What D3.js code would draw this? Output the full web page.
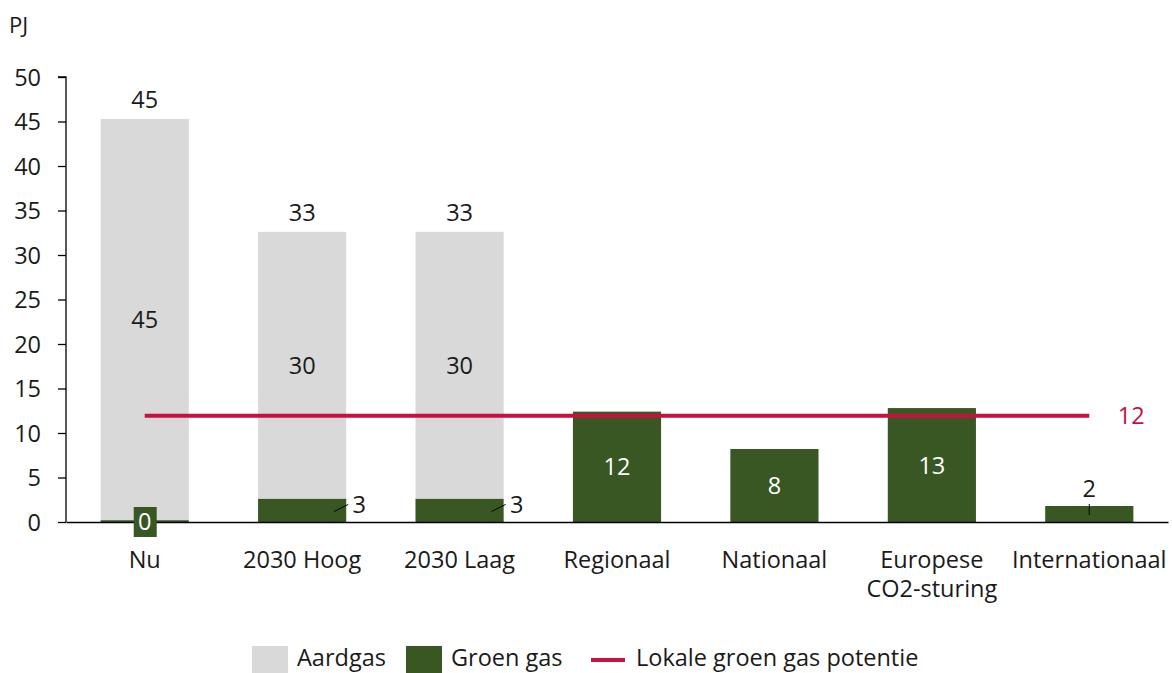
<!doctype html>
<html lang="nl">
<head>
  <meta charset="UTF-8">
  <title>Groen gas en aardgas</title>
  <style>
    body { margin: 0; background: #fff; }
    text { font-family: "Open Sans", Lato, sans-serif; fill: #1a1a1a; }
  </style>
  <script src="https://cdn.jsdelivr.net/npm/d3@7"></script>
</head>
<body>
  <div id="container"></div>
  <script>
    var categories = ["Nu", "2030 Hoog", "2030 Laag", "Regionaal", "Nationaal", "Europese\nCO2-sturing", "Internationaal"];
    var groenGas = [0.2, 2.6, 2.6, 12.4, 8.2, 12.8, 1.8];
    var aardgas = [45.1, 30.0, 30.0, 0, 0, 0, 0];
    var groenLabels = ["0", "3", "3", "12", "8", "13", "2"];
    var aardLabels = ["45", "30", "30", "", "", "", ""];
    var totalLabels = ["45", "33", "33", "", "", "", ""];
    var potentie = 11.95;
    var potentieLabel = "12";
    var yTicks = [0, 5, 10, 15, 20, 25, 30, 35, 40, 45, 50];

    var width = 1172, height = 673;
    var margin = { left: 66, top: 77, right: 4, bottom: 151 };
    var gW = width - margin.left - margin.right,
      gH = height - margin.top - margin.bottom;
    var fs = '23.5px';

    var svg = d3.select('#container').append('svg')
      .attr('width', width).attr('height', height);
    var g = svg.append('g').attr('transform', 'translate(' + margin.left + ',' + margin.top + ')');

    var x = d3.scaleBand().domain(categories).range([0, gW]).paddingInner(0.44).paddingOuter(0.22);
    var y = d3.scaleLinear().domain([0, 50]).range([gH, 0]);

    var cGrey = '#d9d9d9', cGreen = '#385723', cRed = '#c8103e';

    // y axis
    var yAxis = g.append('g').call(d3.axisLeft(y).tickValues(yTicks).tickSize(8).tickPadding(17));
    yAxis.selectAll('path, line').attr('stroke', '#000').attr('stroke-width', 1.3);
    yAxis.select('.domain').attr('d', 'M-8,0H0V' + gH);
    yAxis.selectAll('text').style('font-size', fs).attr('fill', '#1a1a1a')
      .style('font-family', '"Open Sans", sans-serif').attr('dy', '0.36em');

    svg.append('text').attr('x', 9).attr('y', 33).text('PJ').style('font-size', '22px');

    // bars
    var rows = categories.map(function (c, i) {
      return { c: c, g: groenGas[i], a: aardgas[i], i: i };
    });
    g.selectAll('.aard').data(rows).enter().append('rect')
      .attr('x', function (d) { return x(d.c); })
      .attr('width', x.bandwidth())
      .attr('y', function (d) { return y(d.g + d.a); })
      .attr('height', function (d) { return y(d.g) - y(d.g + d.a); })
      .attr('fill', cGrey);
    g.selectAll('.groen').data(rows).enter().append('rect')
      .attr('x', function (d) { return x(d.c); })
      .attr('width', x.bandwidth())
      .attr('y', function (d) { return y(d.g); })
      .attr('height', function (d) { return y(0) - y(d.g); })
      .attr('fill', cGreen);

    // x axis
    var xAxis = g.append('g').attr('transform', 'translate(0,' + gH + ')')
      .call(d3.axisBottom(x).tickSize(0).tickPadding(0));
    xAxis.select('.domain').attr('stroke', '#000').attr('stroke-width', 1.3);
    xAxis.selectAll('text').remove();
    xAxis.selectAll('.tick').each(function (d) {
      var t = d3.select(this).append('text').attr('text-anchor', 'middle')
        .style('font-size', fs).attr('fill', '#1a1a1a');
      d.split('\n').forEach(function (line, k) {
        t.append('tspan').attr('x', 0).attr('y', 46 + k * 29).text(line);
      });
    });

    // potentie line
    g.append('line')
      .attr('x1', x(categories[0]) + x.bandwidth() / 2)
      .attr('x2', x(categories[categories.length - 1]) + x.bandwidth() / 2)
      .attr('y1', y(potentie)).attr('y2', y(potentie))
      .attr('stroke', cRed).attr('stroke-width', 4);
    g.append('text')
      .attr('x', x(categories[categories.length - 1]) + x.bandwidth() / 2 + 42)
      .attr('y', y(potentie)).attr('dy', '0.36em').attr('text-anchor', 'middle')
      .style('font-size', fs).style('fill', cRed).text(potentieLabel);

    // labels
    rows.forEach(function (d) {
      var cx = x(d.c) + x.bandwidth() / 2;
      if (totalLabels[d.i]) {
        g.append('text').attr('x', cx).attr('y', y(d.g + d.a) - 11).attr('text-anchor', 'middle')
          .style('font-size', fs).text(totalLabels[d.i]);
      }
      if (aardLabels[d.i]) {
        g.append('text').attr('x', cx).attr('y', y(d.g + d.a / 2)).attr('dy', '0.36em').attr('text-anchor', 'middle')
          .style('font-size', fs).text(aardLabels[d.i]);
      }
      var lab = groenLabels[d.i];
      if (d.i === 0) {
        g.append('rect').attr('x', cx - 11).attr('y', y(0) - 15).attr('width', 23).attr('height', 30).attr('fill', cGreen);
        g.append('text').attr('x', cx).attr('y', y(0)).attr('dy', '0.36em').attr('text-anchor', 'middle')
          .style('font-size', fs).style('fill', '#fff').text(lab);
      } else if (d.g < 5 && d.a > 0) {
        var lx = x(d.c) + x.bandwidth();
        g.append('line').attr('x1', lx - 12).attr('y1', y(d.g / 2) + 1).attr('x2', lx + 2).attr('y2', y(d.g / 2) - 6)
          .attr('stroke', '#000').attr('stroke-width', 1);
        g.append('text').attr('x', lx + 13).attr('y', y(d.g / 2) - 6).attr('dy', '0.36em').attr('text-anchor', 'middle')
          .style('font-size', fs).text(lab);
      } else if (d.g < 5) {
        g.append('line').attr('x1', cx).attr('x2', cx).attr('y1', y(d.g / 2) + 1).attr('y2', y(d.g) - 2)
          .attr('stroke', '#000').attr('stroke-width', 1);
        g.append('text').attr('x', cx).attr('y', y(d.g) - 9).attr('text-anchor', 'middle')
          .style('font-size', fs).text(lab);
      } else {
        g.append('text').attr('x', cx).attr('y', y(d.g / 2)).attr('dy', '0.36em').attr('text-anchor', 'middle')
          .style('font-size', fs).style('fill', '#fff').text(lab);
      }
    });

    // legend
    var leg = svg.append('g').attr('transform', 'translate(0,658)');
    var items = [
      { t: 'Aardgas', c: cGrey, x: 252, type: 'rect' },
      { t: 'Groen gas', c: cGreen, x: 406, type: 'rect' },
      { t: 'Lokale groen gas potentie', c: cRed, x: 591, type: 'line' }
    ];
    items.forEach(function (it) {
      if (it.type === 'rect') {
        leg.append('rect').attr('x', it.x).attr('y', -12).attr('width', 36).attr('height', 27).attr('fill', it.c);
      } else {
        leg.append('line').attr('x1', it.x).attr('x2', it.x + 34).attr('y1', 2).attr('y2', 2)
          .attr('stroke', it.c).attr('stroke-width', 4);
      }
      leg.append('text').attr('x', it.x + 45).attr('y', 0).attr('dy', '0.34em')
        .style('font-size', fs).text(it.t);
    });
  </script>
</body>
</html>
